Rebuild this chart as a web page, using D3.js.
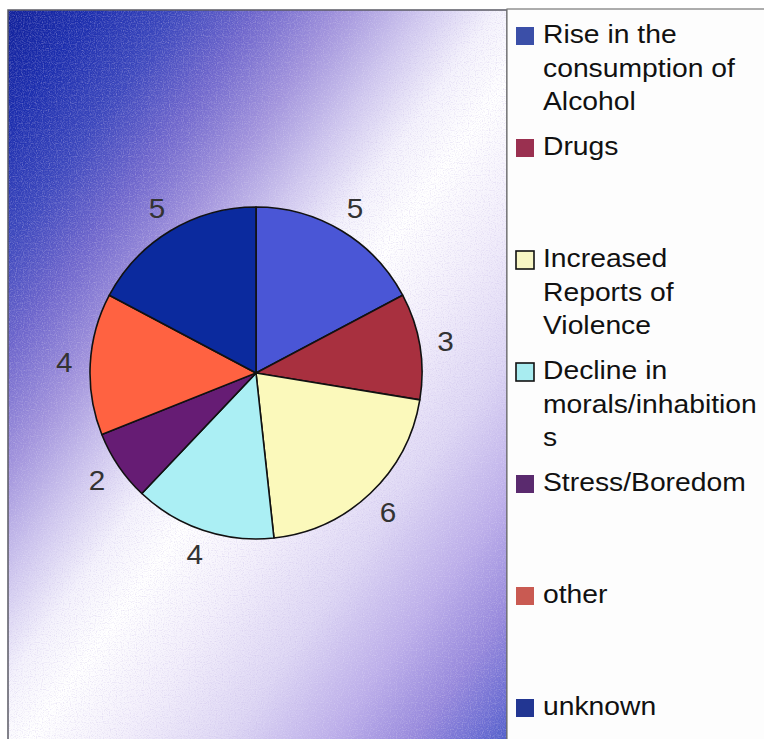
<!DOCTYPE html>
<html>
<head>
<meta charset="utf-8">
<script src="https://cdn.jsdelivr.net/npm/d3@7"></script>
<style>
  html, body { margin: 0; padding: 0; background: #ffffff; }
  svg { display: block; font-family: "Liberation Sans", Arial, Helvetica, sans-serif; }
</style>
</head>
<body>
<svg id="chart" width="764" height="739"></svg>
<script>
// ---- data ----
const categories = [
  "Rise in the consumption of Alcohol",
  "Drugs",
  "Increased Reports of Violence",
  "Decline in morals/inhabitions",
  "Stress/Boredom",
  "other",
  "unknown"
];
const values = [5, 3, 6, 4, 2, 4, 5];
const legendLines = [
  ["Rise in the", "consumption of", "Alcohol"],
  ["Drugs"],
  ["Increased", "Reports of", "Violence"],
  ["Decline in", "morals/inhabition", "s"],
  ["Stress/Boredom"],
  ["other"],
  ["unknown"]
];
const sliceColors = ["#4a56d6", "#a8303f", "#fbf9bb", "#abeff4", "#661c74", "#ff6241", "#0b2a9e"];
const swatchColors = ["#3b4fa8", "#9a3050", "#f8f6c4", "#a8ecf0", "#5a2a6e", "#c95a52", "#223692"];

// ---- layout ----
const W = 764, H = 739;
const plot = { x: 8, y: 10, w: 499, h: 740 };
const cx = 256, cy = 373, R = 166;

const svg = d3.select("#chart");
const defs = svg.append("defs");

// background gradient (diagonal: dark blue -> white band -> blue)
const gl = 840;
const grad = defs.append("linearGradient")
  .attr("id", "bg").attr("gradientUnits", "userSpaceOnUse")
  .attr("x1", 8).attr("y1", 10).attr("x2", 8 + 0.81 * gl).attr("y2", 10 + 0.59 * gl);
[
  [0.00, "#10209a"],
  [0.08, "#1c2eae"],
  [0.16, "#3a46bc"],
  [0.24, "#6e66cc"],
  [0.32, "#a092dc"],
  [0.40, "#d0c8ef"],
  [0.47, "#f4f2fc"],
  [0.53, "#ffffff"],
  [0.62, "#f2eefb"],
  [0.72, "#ddd6f4"],
  [0.82, "#bcaeea"],
  [0.90, "#9688dc"],
  [0.96, "#6a6cd2"],
  [1.00, "#4658c6"]
].forEach(([o, c]) => grad.append("stop").attr("offset", o).attr("stop-color", c));

// grain (white and purple speckles)
function grainFilter(id, seed, rgb) {
  const f = defs.append("filter").attr("id", id)
    .attr("filterUnits", "userSpaceOnUse")
    .attr("x", plot.x).attr("y", plot.y).attr("width", plot.w).attr("height", plot.h);
  f.append("feTurbulence").attr("type", "fractalNoise").attr("baseFrequency", 0.85)
    .attr("numOctaves", 1).attr("seed", seed).attr("result", "n");
  f.append("feColorMatrix").attr("in", "n").attr("type", "matrix")
    .attr("values", `0 0 0 0 ${rgb[0]}  0 0 0 0 ${rgb[1]}  0 0 0 0 ${rgb[2]}  3.2 0 0 0 -1.55`);
}
grainFilter("grainW", 3, [1, 1, 1]);
grainFilter("grainP", 11, [0.5, 0.42, 0.75]);

svg.append("rect").attr("x", 0).attr("y", 0).attr("width", W).attr("height", H).attr("fill", "#ffffff");

// plot area
svg.append("rect")
  .attr("x", plot.x).attr("y", plot.y).attr("width", plot.w).attr("height", plot.h)
  .attr("fill", "url(#bg)");
svg.append("rect")
  .attr("x", plot.x).attr("y", plot.y).attr("width", plot.w).attr("height", plot.h)
  .attr("fill", "#ffffff").attr("filter", "url(#grainW)").attr("opacity", 0.2);
svg.append("rect")
  .attr("x", plot.x).attr("y", plot.y).attr("width", plot.w).attr("height", plot.h)
  .attr("fill", "#ffffff").attr("filter", "url(#grainP)").attr("opacity", 0.3);
svg.append("rect")
  .attr("x", plot.x).attr("y", plot.y).attr("width", plot.w).attr("height", plot.h)
  .attr("fill", "none").attr("stroke", "#5a5a64").attr("stroke-width", 1.5);

// legend panel
svg.append("rect")
  .attr("x", 507).attr("y", 9).attr("width", 270).attr("height", 740)
  .attr("fill", "#fdfdfd").attr("stroke", "#777777").attr("stroke-width", 1.2);

// ---- pie ----
const pie = d3.pie().sort(null).value(d => d);
const arcs = pie(values);
const arc = d3.arc().innerRadius(0).outerRadius(R);
const labelArc = d3.arc().innerRadius(R + 26).outerRadius(R + 26);

const g = svg.append("g").attr("transform", `translate(${cx},${cy})`);
g.selectAll("path.slice").data(arcs).join("path")
  .attr("class", "slice")
  .attr("d", arc)
  .attr("fill", (d, i) => sliceColors[i])
  .attr("stroke", "#111111").attr("stroke-width", 1.6).attr("stroke-linejoin", "round");

g.selectAll("text.val").data(arcs).join("text")
  .attr("class", "val")
  .attr("transform", d => { const [x, y] = labelArc.centroid(d); return `translate(${x},${y}) scale(1.1,1)`; })
  .attr("text-anchor", "middle").attr("dominant-baseline", "central")
  .attr("font-size", 27).attr("fill", "#333333")
  .text(d => d.data);

// ---- legend ----
const ly = d3.scalePoint().domain(categories).range([43, 715]);
const lg = svg.append("g");
const items = lg.selectAll("g.item").data(categories).join("g").attr("class", "item");
items.append("rect")
  .attr("x", 516).attr("y", d => ly(d) - 16).attr("width", 18).attr("height", 18)
  .attr("fill", (d, i) => swatchColors[i])
  .attr("stroke", (d, i) => (i === 2 || i === 3) ? "#111111" : "none")
  .attr("stroke-width", 1.6);
items.each(function (d, i) {
  const sel = d3.select(this);
  legendLines[i].forEach((line, k) => {
    sel.append("text")
      .attr("transform", `translate(543,${ly(d) + k * 33.5}) scale(1.11,1)`)
      .attr("font-size", 25.5).attr("fill", "#111111")
      .text(line);
  });
});
</script>
</body>
</html>
